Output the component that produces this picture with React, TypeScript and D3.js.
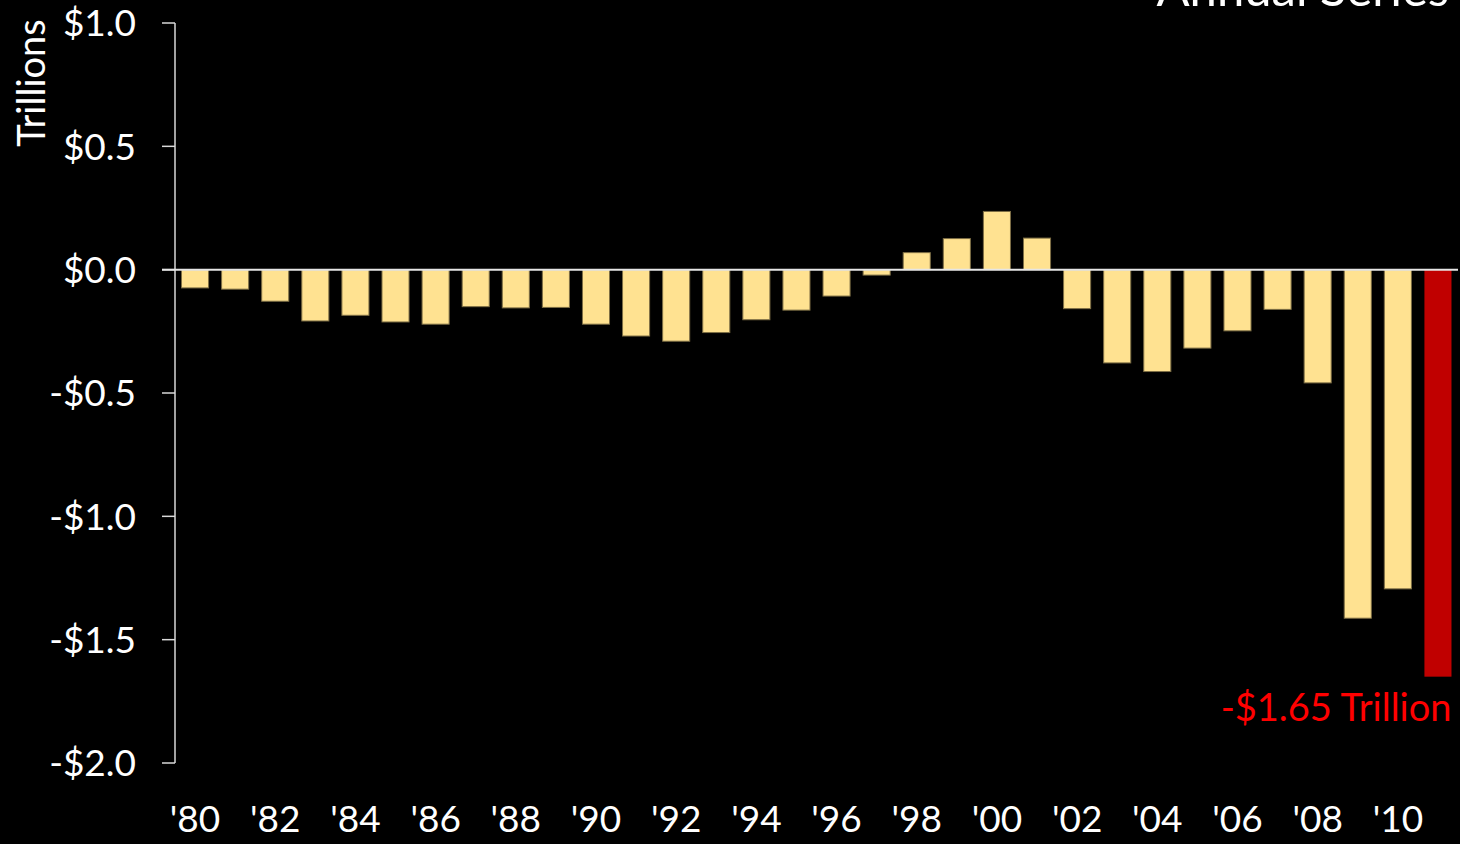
import React from "react";
import * as d3 from "d3";

const years: number[] = [
  1980, 1981, 1982, 1983, 1984, 1985, 1986, 1987, 1988, 1989, 1990, 1991,
  1992, 1993, 1994, 1995, 1996, 1997, 1998, 1999, 2000, 2001, 2002, 2003,
  2004, 2005, 2006, 2007, 2008, 2009, 2010, 2011,
];
const deficits: number[] = [
  -0.074, -0.079, -0.128, -0.208, -0.185, -0.212, -0.221, -0.150, -0.155, -0.153,
  -0.221, -0.269, -0.290, -0.255, -0.203, -0.164, -0.107, -0.022, 0.069, 0.126,
  0.236, 0.128, -0.158, -0.378, -0.413, -0.318, -0.248, -0.161, -0.459, -1.413,
  -1.294, -1.65,
];
const yTicks: number[] = [1.0, 0.5, 0.0, -0.5, -1.0, -1.5, -2.0];
const xTickYears: number[] = [1980, 1982, 1984, 1986, 1988, 1990, 1992, 1994, 1996, 1998, 2000, 2002, 2004, 2006, 2008, 2010];
const highlightYear = 2011;
const title = "Annual Series";
const yAxisTitle = "Trillions";
const annotation = "-$1.65 Trillion";

const W = 1460;
const H = 844;
const FONT = "Lato, 'Open Sans', sans-serif";

export default function App() {
  const x = d3
    .scaleBand<number>()
    .domain(years)
    .range([175, 1458])
    .paddingInner(0.325)
    .paddingOuter(0.1625);
  const y = d3.scaleLinear().domain([-2, 1]).range([763, 23]);

  const fmtY = (v: number) => (v < 0 ? "-" : "") + "$" + Math.abs(v).toFixed(1);
  const fmtX = (yr: number) => "'" + String(yr % 100).padStart(2, "0");

  const hiIdx = years.indexOf(highlightYear);
  const hiVal = deficits[hiIdx];

  return (
    <svg
      width={W}
      height={H}
      style={{ position: "absolute", left: 0, top: 0, background: "#000" }}
    >
      <rect x={0} y={0} width={W} height={H} fill="#000" />
      {/* bars */}
      {years.map((yr, i) => {
        const v = deficits[i];
        const isHi = yr === highlightYear;
        const y0 = y(Math.max(0, v));
        const h = Math.abs(y(v) - y(0));
        return (
          <rect
            key={yr}
            x={x(yr)}
            y={y0}
            width={x.bandwidth()}
            height={h}
            fill={isHi ? "#C00000" : "#FFE291"}
            stroke={isHi ? "none" : "#7d6e45"}
            strokeWidth={1}
          />
        );
      })}
      {/* y axis */}
      <line x1={175} x2={175} y1={y(1)} y2={y(-2)} stroke="#d9d9d9" strokeWidth={1.5} />
      {yTicks.map((t) => (
        <g key={t}>
          <line x1={162} x2={175} y1={y(t)} y2={y(t)} stroke="#d9d9d9" strokeWidth={1.5} />
          <text
            x={136}
            y={y(t)}
            dy="0.36em"
            textAnchor="end"
            fill="#fff"
            fontFamily={FONT}
            fontSize={37}
          >
            {fmtY(t)}
          </text>
        </g>
      ))}
      {/* zero line */}
      <line x1={162} x2={1458} y1={y(0)} y2={y(0)} stroke="#e6e6e6" strokeWidth={2} />
      {/* x labels */}
      {xTickYears.map((yr) => (
        <text
          key={yr}
          x={(x(yr) as number) + x.bandwidth() / 2}
          y={832}
          textAnchor="middle"
          fill="#fff"
          fontFamily={FONT}
          fontSize={37}
        >
          {fmtX(yr)}
        </text>
      ))}
      {/* y axis title */}
      <text
        transform={`translate(45, 83) rotate(-90)`}
        textAnchor="middle"
        fill="#fff"
        fontFamily={FONT}
        fontSize={38}
      >
        {yAxisTitle}
      </text>
      {/* title (cut off at top, as in the reference) */}
      <text x={1449} y={6} textAnchor="end" fill="#fff" fontFamily={FONT} fontSize={49}>
        {title}
      </text>
      {/* annotation */}
      <text
        x={(x(highlightYear) as number) + x.bandwidth()}
        y={y(hiVal) + 44}
        textAnchor="end"
        fill="#FF0000"
        fontFamily={FONT}
        fontSize={38}
      >
        {annotation}
      </text>
    </svg>
  );
}
